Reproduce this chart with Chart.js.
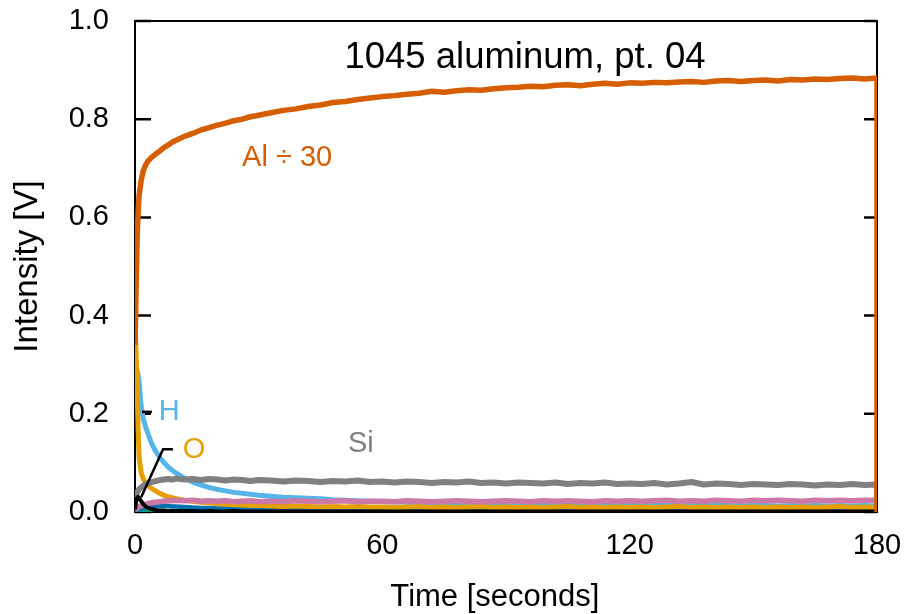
<!DOCTYPE html>
<html>
<head>
<meta charset="utf-8">
<title>1045 aluminum, pt. 04</title>
<script src="https://cdn.jsdelivr.net/npm/chart.js@4"></script>
<style>
  html, body { margin: 0; padding: 0; background: #fff; }
  #wrap { width: 904px; height: 614px; }
</style>
</head>
<body>
<div id="wrap"><canvas id="chart" width="904" height="614"></canvas></div>
<script>
// sample times in seconds (last point repeats 180 where the trace drops back to zero)
const times = [
  0, 0.25, 0.5, 0.75, 1, 1.5, 2, 2.5, 3, 4, 5, 6, 7, 8, 9, 10,
  12, 14, 16, 18, 20, 22, 24, 26, 28, 30,
  33, 36, 39, 42, 45, 48, 51, 54, 57, 60,
  63, 66, 69, 72, 75, 78, 81, 84, 87, 90,
  93, 96, 99, 102, 105, 108, 111, 114, 117, 120,
  123, 126, 129, 132, 135, 138, 141, 144, 147, 150,
  153, 156, 159, 162, 165, 168, 171, 174, 177, 180,
  180
];

const alDiv30 = [
  0.34, 0.45, 0.55, 0.61, 0.645, 0.675, 0.695, 0.705, 0.713, 0.722, 0.729, 0.735, 0.742, 0.747, 0.753, 0.757,
  0.765, 0.771, 0.778, 0.783, 0.788, 0.792, 0.797, 0.800, 0.805, 0.808,
  0.813, 0.818, 0.821, 0.826, 0.829, 0.834, 0.836, 0.840, 0.843, 0.846,
  0.848, 0.851, 0.853, 0.857, 0.855, 0.858, 0.860, 0.859, 0.862, 0.864,
  0.865, 0.867, 0.866, 0.869, 0.870, 0.868, 0.871, 0.873, 0.871, 0.874,
  0.873, 0.875, 0.874, 0.876, 0.877, 0.875, 0.878, 0.879, 0.877, 0.879,
  0.880, 0.878, 0.881, 0.880, 0.882, 0.881, 0.883, 0.884, 0.882, 0.884,
  0
];

const hydrogen = [
  0.30, 0.295, 0.29, 0.28, 0.265, 0.215, 0.19, 0.175, 0.163, 0.14, 0.124, 0.111, 0.101, 0.092, 0.085, 0.079,
  0.069, 0.061, 0.055, 0.050, 0.046, 0.043, 0.040, 0.038, 0.036, 0.034,
  0.032, 0.030, 0.029, 0.028, 0.027, 0.025, 0.024, 0.023, 0.022, 0.021,
  0.021, 0.020, 0.019, 0.019, 0.018, 0.018, 0.017, 0.017, 0.016, 0.016,
  0.016, 0.015, 0.016, 0.015, 0.015, 0.014, 0.015, 0.014, 0.014, 0.014,
  0.013, 0.014, 0.013, 0.014, 0.013, 0.013, 0.014, 0.013, 0.012, 0.013,
  0.013, 0.012, 0.013, 0.012, 0.013, 0.012, 0.013, 0.012, 0.013, 0.012,
  0
];

const oxygen = [
  0.38, 0.33, 0.25, 0.17, 0.11, 0.08, 0.068, 0.060, 0.055, 0.048, 0.043, 0.038, 0.034, 0.031, 0.029, 0.027,
  0.024, 0.022, 0.020, 0.019, 0.017, 0.016, 0.015, 0.014, 0.013, 0.013,
  0.012, 0.011, 0.012, 0.011, 0.010, 0.011, 0.010, 0.011, 0.010, 0.010,
  0.009, 0.010, 0.011, 0.009, 0.010, 0.009, 0.010, 0.011, 0.009, 0.010,
  0.009, 0.010, 0.009, 0.010, 0.011, 0.009, 0.010, 0.009, 0.010, 0.009,
  0.010, 0.009, 0.010, 0.011, 0.009, 0.010, 0.009, 0.010, 0.009, 0.010,
  0.009, 0.010, 0.009, 0.010, 0.009, 0.010, 0.011, 0.009, 0.010, 0.009,
  0
];

const silicon = [
  0.030, 0.035, 0.040, 0.043, 0.046, 0.050, 0.053, 0.056, 0.058, 0.061, 0.063, 0.065, 0.066, 0.067, 0.066, 0.068,
  0.066, 0.067, 0.065, 0.067, 0.066, 0.064, 0.066, 0.065, 0.063, 0.065,
  0.064, 0.062, 0.064, 0.063, 0.061, 0.063, 0.062, 0.064, 0.061, 0.062,
  0.060, 0.062, 0.061, 0.059, 0.061, 0.060, 0.062, 0.059, 0.060, 0.058,
  0.060, 0.059, 0.058, 0.060, 0.057, 0.059, 0.058, 0.060, 0.057, 0.058,
  0.057, 0.059, 0.056, 0.058, 0.061, 0.056, 0.058, 0.057, 0.055, 0.057,
  0.056, 0.055, 0.057, 0.056, 0.054, 0.056, 0.055, 0.057, 0.055, 0.056,
  0
];

const pinkTrace = [
  0.005, 0.006, 0.008, 0.009, 0.011, 0.013, 0.014, 0.016, 0.017, 0.019, 0.020, 0.021, 0.022, 0.023, 0.023, 0.024,
  0.023, 0.024, 0.022, 0.023, 0.022, 0.023, 0.021, 0.022, 0.023, 0.021,
  0.022, 0.021, 0.023, 0.022, 0.021, 0.022, 0.023, 0.021, 0.022, 0.022,
  0.021, 0.023, 0.022, 0.021, 0.022, 0.023, 0.022, 0.021, 0.022, 0.023,
  0.022, 0.021, 0.023, 0.022, 0.023, 0.022, 0.021, 0.023, 0.022, 0.023,
  0.022, 0.023, 0.024, 0.022, 0.023, 0.022, 0.024, 0.023, 0.022, 0.024,
  0.023, 0.024, 0.023, 0.022, 0.024, 0.023, 0.024, 0.023, 0.024, 0.024,
  0
];

const blueTrace = [
  0.002, 0.003, 0.004, 0.005, 0.005, 0.007, 0.008, 0.009, 0.010, 0.011, 0.012, 0.012, 0.012, 0.012, 0.011, 0.011,
  0.010, 0.009, 0.008, 0.008, 0.007, 0.007, 0.006, 0.007, 0.006, 0.006,
  0.005, 0.006, 0.005, 0.004, 0.005, 0.005, 0.004, 0.005, 0.004, 0.005,
  0.004, 0.005, 0.004, 0.004, 0.005, 0.004, 0.005, 0.004, 0.004, 0.005,
  0.004, 0.004, 0.005, 0.004, 0.004, 0.005, 0.004, 0.004, 0.005, 0.004,
  0.004, 0.005, 0.004, 0.004, 0.005, 0.004, 0.004, 0.005, 0.004, 0.004,
  0.005, 0.004, 0.004, 0.005, 0.004, 0.004, 0.005, 0.004, 0.004, 0.004,
  0
];

const blackTrace = [
  0.005, 0.020, 0.028, 0.031, 0.028, 0.022, 0.016, 0.012, 0.009, 0.006, 0.004, 0.003, 0.003, 0.002, 0.002, 0.002,
  0.002, 0.002, 0.001, 0.002, 0.001, 0.001, 0.002, 0.001, 0.001, 0.001,
  0.001, 0.001, 0.001, 0.001, 0.001, 0.001, 0.001, 0.001, 0.001, 0.001,
  0.001, 0.001, 0.001, 0.001, 0.001, 0.001, 0.001, 0.001, 0.001, 0.001,
  0.001, 0.001, 0.001, 0.001, 0.001, 0.001, 0.001, 0.001, 0.001, 0.001,
  0.001, 0.001, 0.001, 0.001, 0.001, 0.001, 0.001, 0.001, 0.001, 0.001,
  0.001, 0.001, 0.001, 0.001, 0.001, 0.001, 0.001, 0.001, 0.001, 0.001,
  0
];

const greenTrace = [
  0.001, 0.001, 0.002, 0.002, 0.002, 0.002, 0.002, 0.002, 0.002, 0.002, 0.002, 0.002, 0.002, 0.002, 0.002, 0.002,
  0.002, 0.002, 0.002, 0.002, 0.002, 0.002, 0.002, 0.002, 0.002, 0.002,
  0.002, 0.002, 0.002, 0.002, 0.002, 0.002, 0.002, 0.002, 0.002, 0.002,
  0.002, 0.002, 0.002, 0.002, 0.002, 0.002, 0.002, 0.002, 0.002, 0.002,
  0.002, 0.002, 0.002, 0.002, 0.002, 0.002, 0.002, 0.002, 0.002, 0.002,
  0.002, 0.002, 0.002, 0.002, 0.002, 0.002, 0.002, 0.002, 0.002, 0.002,
  0.002, 0.002, 0.002, 0.002, 0.002, 0.002, 0.002, 0.002, 0.002, 0.002,
  0
];

const xTicks = [0, 60, 120, 180];
const yTicks = [0, 0.2, 0.4, 0.6, 0.8, 1.0];

const FONT = "'Liberation Sans', Arial, sans-serif";

function pts(values) {
  return times.map((t, i) => ({ x: t, y: values[i] }));
}

// lower order = drawn on top
const series = [
  { label: "Al ÷ 30", values: alDiv30,   color: "#D55E00", order: 0, width: 5.5 },
  { label: "black",   values: blackTrace, color: "#000000", order: 1, width: 4 },
  { label: "Si",      values: silicon,   color: "#808080", order: 2, width: 6 },
  { label: "pink",    values: pinkTrace, color: "#CC79A7", order: 3, width: 5.5 },
  { label: "O",       values: oxygen,    color: "#E69F00", order: 4, width: 5 },
  { label: "H",       values: hydrogen,  color: "#56B4E9", order: 5, width: 5 },
  { label: "blue",    values: blueTrace, color: "#0072B2", order: 6, width: 4.5 },
  { label: "green",   values: greenTrace, color: "#009E73", order: 7, width: 3 }
];

// box around the plot plus inward y ticks on both sides
const frame = {
  id: "frame",
  beforeDatasetsDraw(chart) {
    const { ctx, chartArea: a, scales } = chart;
    ctx.save();
    ctx.strokeStyle = "#000";
    ctx.lineWidth = 2;
    ctx.strokeRect(a.left, a.top, a.right - a.left, a.bottom - a.top);
    ctx.lineWidth = 2.5;
    yTicks.forEach(v => {
      const y = scales.y.getPixelForValue(v);
      ctx.beginPath();
      ctx.moveTo(a.left, y);
      ctx.lineTo(a.left + 16, y);
      ctx.moveTo(a.right, y);
      ctx.lineTo(a.right - 13, y);
      ctx.stroke();
    });
    ctx.restore();
  }
};

// title, series names and leader lines placed in data units
const notes = [
  { text: "1045 aluminum, pt. 04", x: 94.6, y: 0.925, color: "#000", size: 36.5 },
  { text: "Al ÷ 30", x: 36.9, y: 0.721, color: "#D55E00", size: 29 },
  { text: "H",       x: 8.3,  y: 0.204, color: "#56B4E9", size: 29 },
  { text: "O",       x: 14.3, y: 0.126, color: "#E69F00", size: 29 },
  { text: "Si",      x: 54.8, y: 0.138, color: "#808080", size: 29 }
];
const leaders = [
  [[1.7, 0.204], [4.1, 0.204]],
  [[9.2, 0.128], [6.8, 0.128], [1.5, 0.03]]
];

const annotate = {
  id: "annotate",
  afterDatasetsDraw(chart) {
    const { ctx, scales: { x, y } } = chart;
    ctx.save();
    ctx.strokeStyle = "#000";
    ctx.lineWidth = 2.5;
    leaders.forEach(path => {
      ctx.beginPath();
      path.forEach(([px, py], i) => {
        const X = x.getPixelForValue(px), Y = y.getPixelForValue(py);
        if (i === 0) ctx.moveTo(X, Y); else ctx.lineTo(X, Y);
      });
      ctx.stroke();
    });
    ctx.textAlign = "center";
    ctx.textBaseline = "middle";
    notes.forEach(n => {
      ctx.font = n.size + "px " + FONT;
      ctx.fillStyle = n.color;
      ctx.fillText(n.text, x.getPixelForValue(n.x), y.getPixelForValue(n.y));
    });
    ctx.restore();
  },
  // x axis title sits a little left of the axis centre
  afterDraw(chart) {
    const { ctx, scales: { x } } = chart;
    ctx.save();
    ctx.font = "31px " + FONT;
    ctx.fillStyle = "#000";
    ctx.textAlign = "center";
    ctx.textBaseline = "middle";
    ctx.fillText("Time [seconds]", x.getPixelForValue(87.3), x.bottom - 17);
    ctx.restore();
  }
};

// fixed axis boxes, no extra room reserved for overhanging tick labels
function fixBox(size) {
  return scale => {
    if (scale.isHorizontal()) scale.height = size; else scale.width = size;
    scale.paddingTop = 0;
    scale.paddingBottom = 0;
    scale.paddingLeft = 0;
    scale.paddingRight = 0;
  };
}

new Chart(document.getElementById("chart"), {
  type: "line",
  data: {
    datasets: series.map(s => ({
      label: s.label,
      data: pts(s.values),
      borderColor: s.color,
      backgroundColor: s.color,
      borderWidth: s.width,
      pointRadius: 0,
      tension: 0,
      order: s.order,
      borderJoinStyle: "round"
    }))
  },
  options: {
    responsive: false,
    animation: false,
    events: [],
    layout: { padding: { top: 21, right: 27, left: 0, bottom: 0 } },
    plugins: {
      legend: { display: false },
      tooltip: { enabled: false }
    },
    scales: {
      x: {
        type: "linear",
        min: 0,
        max: 180,
        grid: { display: false, drawTicks: false },
        border: { display: false },
        afterBuildTicks: scale => { scale.ticks = xTicks.map(v => ({ value: v })); },
        afterFit: fixBox(102),
        ticks: {
          color: "#000",
          font: { family: FONT, size: 29 },
          padding: 17,
          maxRotation: 0,
          autoSkip: false
        },
        title: { display: false }
      },
      y: {
        min: 0,
        max: 1,
        grid: { display: false, drawTicks: false },
        border: { display: false },
        afterBuildTicks: scale => { scale.ticks = yTicks.map(v => ({ value: v })); },
        afterFit: fixBox(135),
        ticks: {
          color: "#000",
          font: { family: FONT, size: 29 },
          padding: 26,
          callback: v => v.toFixed(1)
        },
        title: {
          display: true,
          text: "Intensity [V]",
          color: "#000",
          font: { family: FONT, size: 33 },
          padding: { top: 8, bottom: 0 }
        }
      }
    }
  },
  plugins: [frame, annotate]
});
</script>
</body>
</html>
